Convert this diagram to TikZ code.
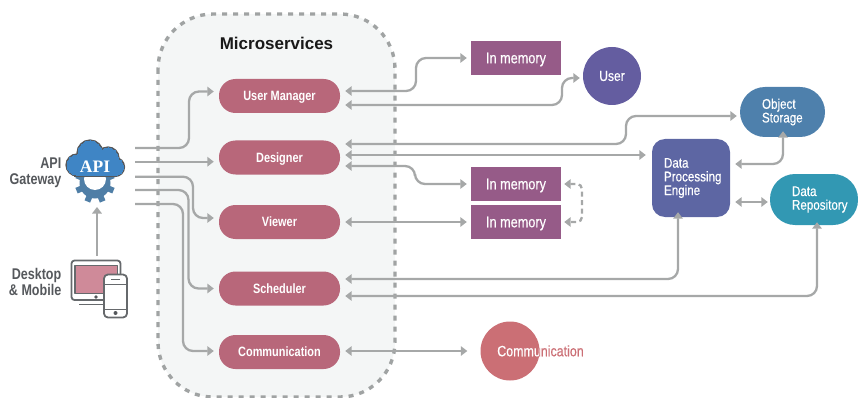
\documentclass[tikz,border=0pt]{standalone}
\usepackage{fontspec}
\setmainfont{Liberation Sans}
\newfontfamily\cond[FakeStretch=0.83,FakeBold=0.4]{Liberation Sans}
\newfontfamily\condb[FakeStretch=0.81]{Liberation Sans}
\usetikzlibrary{arrows.meta}
\definecolor{conn}{HTML}{A6A8A8}
\definecolor{dashc}{HTML}{A0A3A3}
\definecolor{panel}{HTML}{F4F6F6}
\definecolor{svc}{HTML}{B8677A}
\definecolor{mem}{HTML}{965B88}
\definecolor{usr}{HTML}{645DA0}
\definecolor{obj}{HTML}{4E80AC}
\definecolor{repo}{HTML}{3298B3}
\definecolor{dpe}{HTML}{5D66A3}
\definecolor{commc}{HTML}{CB6F75}
\definecolor{ink}{HTML}{55585C}
\definecolor{cloudb}{HTML}{3F85C5}
\definecolor{gearb}{HTML}{4F7EA6}
\definecolor{pinkscr}{HTML}{CF8A99}
\tikzset{
  x=1pt,y=-1pt,
  wire/.style={draw=conn,line width=2.3pt,rounded corners=10pt},
  oneway/.style={wire,-{Triangle[length=6.5pt,width=9.5pt]}},
  twoway/.style={wire,{Triangle[length=6.5pt,width=9.5pt]}-{Triangle[length=6.5pt,width=9.5pt]}},
  svcbox/.style={rectangle,fill=svc,rounded corners=16.5pt,minimum width=121pt,minimum height=34pt,inner sep=0pt,text=white,text height=9.5pt,text depth=0pt,font=\condb\bfseries\fontsize{13.5}{15}\selectfont},
  membox/.style={rectangle,fill=mem,minimum width=90pt,minimum height=34pt,inner sep=0pt,text=white,text height=10.5pt,text depth=0pt,font=\cond\fontsize{15.3}{16}\selectfont},
  blob/.style={rectangle,inner ysep=0pt,align=left,text=white,font=\cond\fontsize{14}{13.7}\selectfont},
  roundnode/.style={circle,inner sep=0pt,text=white},
  lab/.style={align=right,anchor=east,inner sep=0pt,text=ink,font=\condb\bfseries\fontsize{15.5}{16}\selectfont},
  icon/.style={draw=ink!90,line width=1.8pt,line join=round},
}
\begin{document}
\begin{tikzpicture}
\useasboundingbox (0,0) rectangle (858,398);
% panel
\draw[fill=panel,draw=dashc,line width=3.4pt,dash pattern=on 5pt off 6pt,rounded corners=55pt]
  (158,14) rectangle (395,397);
\node[font=\bfseries\fontsize{17}{18}\selectfont,text=black!90,inner sep=0pt] (title) at (276.5,43) {Microservices};
% services
\node[svcbox] (um) at (279.5,96) {User Manager};
\node[svcbox] (ds) at (279.5,157.5) {Designer};
\node[svcbox] (vw) at (279.5,222) {Viewer};
\node[svcbox] (sc) at (279.5,288.5) {Scheduler};
\node[svcbox] (cm) at (279.5,352) {Communication};
% stores
\node[membox] (m1) at (516,58) {In memory};
\node[membox] (m2) at (516,184) {In memory};
\node[membox] (m3) at (516,222) {In memory};
\node[roundnode,fill=usr,minimum size=58pt,font=\cond\fontsize{14.5}{16}\selectfont] (user) at (612,76) {User};
\node[blob,fill=obj,rounded corners=25pt,minimum height=50pt,text width=41pt,inner xsep=22pt] (os) at (782.5,112) {Object\\Storage};
\node[blob,fill=repo,rounded corners=25pt,minimum height=51pt,text width=44pt,inner xsep=22pt] (dr) at (814,199.5) {Data\\Repository};
\node[blob,fill=dpe,rounded corners=13pt,minimum height=78pt,text width=54pt,inner xsep=12pt] (en) at (691,178) {Data\\Processing\\Engine};
% communication circle with two-tone text
\node[circle,fill=commc,minimum size=59pt,inner sep=0pt] (cc) at (510,351) {};
\node[text=commc,inner sep=0pt,text height=10.5pt,text depth=0pt,font=\cond\fontsize{15}{16}\selectfont] (cct) at (540.5,351) {Communication};
\begin{scope}
  \clip (510,351) circle (29.5);
  \node[text=white,inner sep=0pt,text height=10.5pt,text depth=0pt,font=\cond\fontsize{15}{16}\selectfont] at (540.5,351) {Communication};
\end{scope}
% gateway icon
\coordinate (gw) at (95,183);
\foreach \a in {0,45,...,315}{
  \fill[gearb,rotate around={\a+22.5:(gw)}] (92,163) rectangle (98,172);
}
\fill[gearb] (gw) circle (15.5);
\fill[white] (95,179) circle (11);
% cloud
\foreach \w/\c in {3.2pt/ink,0pt/cloudb}{
  \filldraw[fill=\c,draw=\c,line width=\w] (90,153) circle (12);
  \filldraw[fill=\c,draw=\c,line width=\w] (108,158) circle (10);
  \filldraw[fill=\c,draw=\c,line width=\w] (77,165) circle (10);
  \filldraw[fill=\c,draw=\c,line width=\w] (115,167) circle (8.5);
  \filldraw[fill=\c,draw=\c,line width=\w] (76,158) rectangle (115,175.5);
}
\node[inner sep=0pt,text=white,text height=11.5pt,text depth=0pt,font=\fontspec{Liberation Serif}\bfseries\fontsize{17.5}{18}\selectfont] (api) at (95,166.7) {API};
\node[lab] (gwl) at (61.5,173) {API\\Gateway};
% desktop icon
\draw[icon,fill=white,rounded corners=3pt] (71.5,260.5) rectangle (120.5,300);
\fill[pinkscr] (75,265.5) rectangle (117.5,293.5);
\draw[icon,line width=1.2pt] (75,265.5) rectangle (117.5,293.5);
\fill[ink] (96,297) circle (1.8);
\draw[icon] (79,304.5) -- (104,304.5);
\draw[icon,fill=white,rounded corners=4pt] (104,274.5) rectangle (127,317.5);
\draw[icon,line width=1pt] (104,284) -- (127,284) (104,309) -- (127,309);
\draw[icon] (111,279.5) -- (120,279.5);
\fill[ink] (115.5,313) circle (2);
\node[lab] (dkl) at (61.5,281.5) {Desktop\\\& Mobile};
% gateway tap points
\coordinate (g1) at (135,148);
\coordinate (g2) at (135,161.7);
\coordinate (g3) at (135,176.7);
\coordinate (g4) at (135,190);
\coordinate (g5) at (135,204);
\coordinate (gin) at (97,207);
\coordinate (dkout) at (97,256);
\draw[oneway] (dkout) -- (gin);
\draw[oneway] (g1) -- (189,148) -- (189,91.5) -- ([shift={(-5,-4.5)}]um.west);
\draw[oneway] (g2) -- ([shift={(-5,0)}]ds.west |- g2);
\draw[oneway] (g3) -- (193,176.7) -- (193,218) -- ([shift={(-5,-4)}]vw.west);
\draw[oneway] (g4) -- (188.5,190) -- (188.5,288.5) -- ([xshift=-5pt]sc.west);
\draw[oneway] (g5) -- (183,204) -- (183,351) -- ([shift={(-5,-1)}]cm.west);
% right side
\draw[twoway] ([shift={(5,-5)}]um.east) -- (416,91) -- (416,58) -- ([xshift=-4pt]m1.west);
\draw[twoway] ([shift={(5,9)}]um.east) -- (562,105) -- (562,78) -- ([xshift=-3pt]user.west |- 0,78);
\draw[twoway] ([shift={(5,-13.5)}]ds.east) -- (626,144) -- (626,116) -- ([xshift=-3pt]os.west |- 0,116);
\draw[twoway] ([shift={(5,-2.5)}]ds.east) -- ([xshift=-6pt]en.west |- 0,155);
\draw[twoway] ([shift={(5,8.5)}]ds.east) -- (415,166) -- (415,184) -- ([xshift=-4pt]m2.west);
\draw[twoway] ([xshift=5pt]vw.east) -- ([xshift=-4pt]m3.west);
\draw[twoway,dash pattern=on 5pt off 3.5pt,rounded corners=5pt] ([xshift=3pt]m2.east) -- (582,184) -- (582,222) -- ([xshift=3pt]m3.east);
\draw[twoway] ([shift={(5,-9.5)}]sc.east) -- (678,279) -- ([yshift=5pt]en.south -| 678,0);
\draw[twoway] ([shift={(5,7.5)}]sc.east) -- (817,296) -- ([yshift=3pt]dr.south -| 817,0);
\draw[twoway] ([shift={(5,-1)}]cm.east) -- ([xshift=-13pt]cc.west);
\draw[twoway] ([shift={(5,-14)}]en.east) -- (783,164) -- ([yshift=6pt]os.south -| 783,0);
\draw[twoway] ([shift={(5,24)}]en.east) -- ([shift={(-2,2.5)}]dr.west);
\end{tikzpicture}
\end{document}
